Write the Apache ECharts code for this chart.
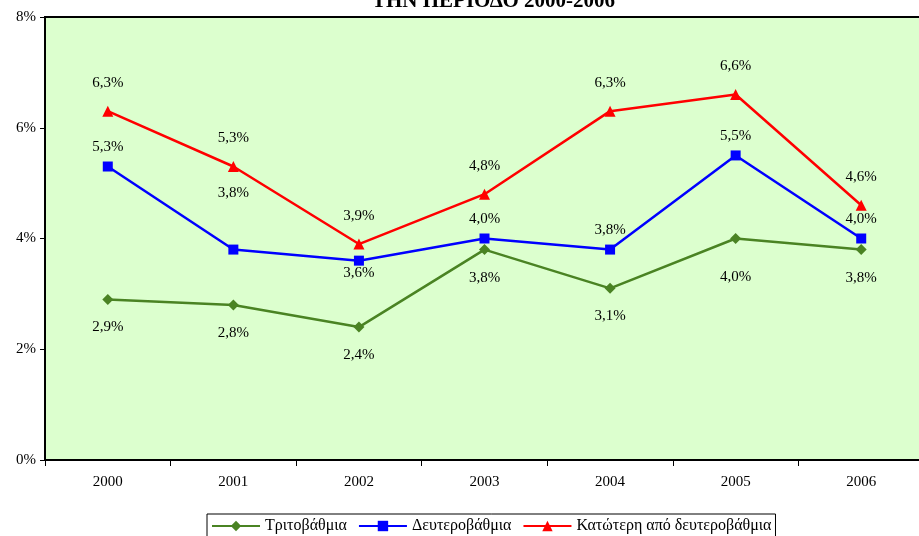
<!DOCTYPE html>
<html>
<head>
<meta charset="utf-8">
<script src="https://cdn.jsdelivr.net/npm/echarts@6.0.0/dist/echarts.min.js"></script>
<style>
  html, body { margin: 0; padding: 0; background: #fff; overflow: hidden; }
  /* a bit wider than the window: the plot runs off the right edge, as in the original */
  #chart { width: 926px; height: 536px; }
</style>
</head>
<body>
<div id="chart"></div>
<script>
var years = ['2000', '2001', '2002', '2003', '2004', '2005', '2006'];
var tertiary = [2.9, 2.8, 2.4, 3.8, 3.1, 4.0, 3.8];
var secondary = [5.3, 3.8, 3.6, 4.0, 3.8, 5.5, 4.0];
var lower = [6.3, 5.3, 3.9, 4.8, 6.3, 6.6, 4.6];
var seriesNames = ['Τριτοβάθμια', 'Δευτεροβάθμια', 'Κατώτερη από δευτεροβάθμια'];

var FONT = "'Liberation Serif', 'DejaVu Serif', serif";

function fmt(v) {
  return v.toFixed(1).replace('.', ',') + '%';
}

// turn values into data items, with a few label tweaks like the original
function items(values, pos, dist, overrides) {
  return values.map(function(v, i) {
    var o = (overrides && overrides[i]) || {};
    return {
      value: v,
      label: {
        position: o.position || pos,
        distance: o.distance != null ? o.distance : dist
      }
    };
  });
}

var chart = echarts.init(document.getElementById('chart'));

var labelStyle = {
  show: true,
  color: '#000',
  fontFamily: FONT,
  fontSize: 15,
  formatter: function(p) { return fmt(p.value); }
};

chart.setOption({
  animation: false,
  title: {
    text: 'ΤΗΝ ΠΕΡΙΟΔΟ 2000-2006',
    left: 367,
    top: -14,
    textStyle: { fontFamily: FONT, fontSize: 21, fontWeight: 'bold', color: '#000' }
  },
  grid: {
    left: 45,
    top: 17,
    width: 879,
    height: 443,
    show: true,
    backgroundColor: '#DCFFCE',
    borderColor: '#000',
    borderWidth: 2
  },
  legend: {
    bottom: -6,
    left: 207,
    data: seriesNames,
    itemWidth: 48,
    itemHeight: 13,
    itemGap: 11,
    borderColor: '#000',
    borderWidth: 1,
    padding: [4, 4, 8, 4],
    textStyle: { fontFamily: FONT, fontSize: 16, color: '#000' }
  },
  xAxis: {
    type: 'category',
    data: years,
    boundaryGap: true,
    axisLine: { lineStyle: { color: '#000', width: 2 } },
    axisTick: { show: true, inside: false, length: 6, lineStyle: { color: '#000' } },
    axisLabel: { color: '#000', fontFamily: FONT, fontSize: 15, margin: 15 }
  },
  yAxis: {
    type: 'value',
    min: 0,
    max: 8,
    interval: 2,
    splitLine: { show: false },
    axisLine: { show: true, lineStyle: { color: '#000', width: 2 } },
    axisTick: { show: true, length: 5, lineStyle: { color: '#000' } },
    axisLabel: {
      color: '#000', fontFamily: FONT, fontSize: 15, margin: 9,
      formatter: function(v) { return v + '%'; }
    }
  },
  series: [
    {
      name: seriesNames[0],
      type: 'line',
      data: items(tertiary, 'bottom', 15, { 5: { distance: 26 } }),
      color: '#4A8323',
      lineStyle: { width: 2.5 },
      symbol: 'diamond',
      symbolSize: 11,
      label: labelStyle,
      z: 3
    },
    {
      name: seriesNames[1],
      type: 'line',
      data: items(secondary, 'top', 7, { 1: { distance: 44 }, 2: { position: 'bottom', distance: 0 } }),
      color: '#0000FF',
      lineStyle: { width: 2.5 },
      symbol: 'rect',
      symbolSize: 10,
      label: labelStyle,
      z: 4
    },
    {
      name: seriesNames[2],
      type: 'line',
      data: items(lower, 'top', 15),
      color: '#FF0000',
      lineStyle: { width: 2.5 },
      symbol: 'triangle',
      symbolSize: 11,
      label: labelStyle,
      z: 5
    }
  ]
});
</script>
</body>
</html>
